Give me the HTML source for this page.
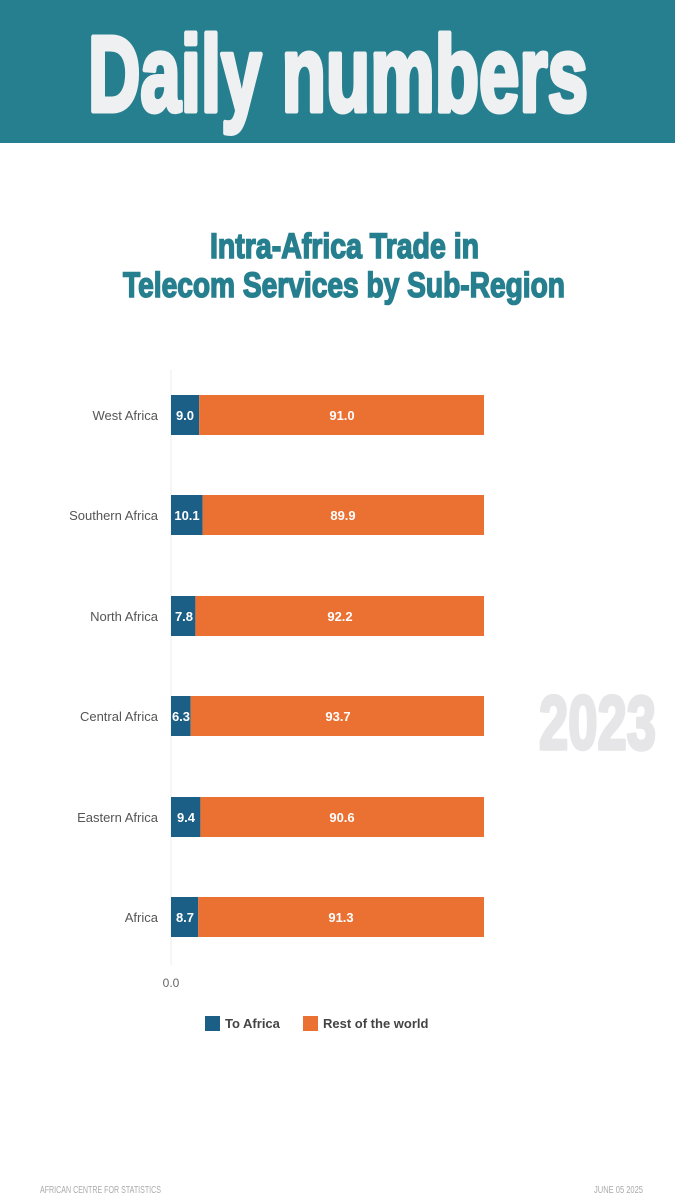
<!DOCTYPE html>
<html><head><meta charset="utf-8"><style>
html,body{margin:0;padding:0;background:#fff;}
svg{display:block;}
</style></head><body>
<svg width="675" height="1200" viewBox="0 0 675 1200" xmlns="http://www.w3.org/2000/svg" font-family="Liberation Sans, sans-serif">
<rect x="0" y="0" width="675" height="143" fill="#267f8e"/>
<text x="88" y="111" font-size="108" font-weight="bold" fill="#eef0f2" stroke="#eef0f2" stroke-width="5" stroke-linejoin="round" textLength="500" lengthAdjust="spacingAndGlyphs">Daily numbers</text>
<text x="210" y="258" font-size="35" font-weight="bold" fill="#267f8e" stroke="#267f8e" stroke-width="1.6" textLength="269" lengthAdjust="spacingAndGlyphs">Intra-Africa Trade in</text>
<text x="123" y="297" font-size="35" font-weight="bold" fill="#267f8e" stroke="#267f8e" stroke-width="1.6" textLength="442" lengthAdjust="spacingAndGlyphs">Telecom Services by Sub-Region</text>
<text x="539" y="749" font-size="76" font-weight="bold" fill="#e6e6e8" stroke="#e6e6e8" stroke-width="3.5" stroke-linejoin="round" textLength="117" lengthAdjust="spacingAndGlyphs">2023</text>
<line x1="171" y1="370" x2="171" y2="965" stroke="#eeeeee" stroke-width="1"/>
<g font-size="13">
<g>
<rect x="171" y="395" width="28.2" height="40" fill="#1b5f86"/><rect x="199.2" y="395" width="284.8" height="40" fill="#eb7133"/>
<text x="158" y="420" text-anchor="end" fill="#555">West Africa</text>
<text x="185" y="420" text-anchor="middle" fill="#fff" font-weight="bold">9.0</text>
<text x="342" y="420" text-anchor="middle" fill="#fff" font-weight="bold">91.0</text>
</g>
<g>
<rect x="171" y="495" width="31.6" height="40" fill="#1b5f86"/><rect x="202.6" y="495" width="281.4" height="40" fill="#eb7133"/>
<text x="158" y="520" text-anchor="end" fill="#555">Southern Africa</text>
<text x="187" y="520" text-anchor="middle" fill="#fff" font-weight="bold">10.1</text>
<text x="343" y="520" text-anchor="middle" fill="#fff" font-weight="bold">89.9</text>
</g>
<g>
<rect x="171" y="596" width="24.4" height="40" fill="#1b5f86"/><rect x="195.4" y="596" width="288.6" height="40" fill="#eb7133"/>
<text x="158" y="621" text-anchor="end" fill="#555">North Africa</text>
<text x="184" y="621" text-anchor="middle" fill="#fff" font-weight="bold">7.8</text>
<text x="340" y="621" text-anchor="middle" fill="#fff" font-weight="bold">92.2</text>
</g>
<g>
<rect x="171" y="696" width="19.7" height="40" fill="#1b5f86"/><rect x="190.7" y="696" width="293.3" height="40" fill="#eb7133"/>
<text x="158" y="721" text-anchor="end" fill="#555">Central Africa</text>
<text x="181" y="721" text-anchor="middle" fill="#fff" font-weight="bold">6.3</text>
<text x="338" y="721" text-anchor="middle" fill="#fff" font-weight="bold">93.7</text>
</g>
<g>
<rect x="171" y="797" width="29.4" height="40" fill="#1b5f86"/><rect x="200.4" y="797" width="283.6" height="40" fill="#eb7133"/>
<text x="158" y="822" text-anchor="end" fill="#555">Eastern Africa</text>
<text x="186" y="822" text-anchor="middle" fill="#fff" font-weight="bold">9.4</text>
<text x="342" y="822" text-anchor="middle" fill="#fff" font-weight="bold">90.6</text>
</g>
<g>
<rect x="171" y="897" width="27.2" height="40" fill="#1b5f86"/><rect x="198.2" y="897" width="285.8" height="40" fill="#eb7133"/>
<text x="158" y="922" text-anchor="end" fill="#555">Africa</text>
<text x="185" y="922" text-anchor="middle" fill="#fff" font-weight="bold">8.7</text>
<text x="341" y="922" text-anchor="middle" fill="#fff" font-weight="bold">91.3</text>
</g>
<text x="171" y="987" text-anchor="middle" fill="#666" font-size="12">0.0</text>
</g>
<rect x="205" y="1016" width="15" height="15" fill="#1b5f86"/>
<text x="225" y="1028" font-size="13" font-weight="bold" fill="#444">To Africa</text>
<rect x="303" y="1016" width="15" height="15" fill="#eb7133"/>
<text x="323" y="1028" font-size="13" font-weight="bold" fill="#444">Rest of the world</text>
<text x="40" y="1193" font-size="10" fill="#aaa" textLength="121" lengthAdjust="spacingAndGlyphs">AFRICAN CENTRE FOR STATISTICS</text>
<text x="643" y="1193" font-size="10" fill="#aaa" text-anchor="end" textLength="49" lengthAdjust="spacingAndGlyphs">JUNE 05 2025</text>
</svg>
</body></html>
